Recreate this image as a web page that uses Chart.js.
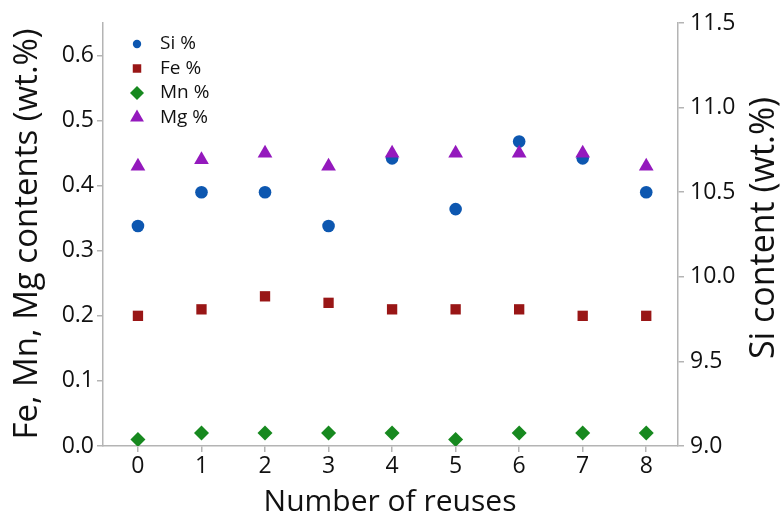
<!DOCTYPE html>
<html>
<head>
<meta charset="utf-8">
<script src="https://cdn.jsdelivr.net/npm/chart.js@4.4.1/dist/chart.umd.min.js"></script>
<style>
  html, body { margin: 0; padding: 0; background: #fff; }
  #wrap { width: 783px; height: 519px; }
</style>
</head>
<body>
<div id="wrap"><canvas id="chart" width="783" height="519"></canvas></div>
<script>
// number of reuses
const reuses = [0, 1, 2, 3, 4, 5, 6, 7, 8];
// contents in wt.%
const siValues = [10.3, 10.5, 10.5, 10.3, 10.7, 10.4, 10.8, 10.7, 10.5];
const feValues = [0.20, 0.21, 0.23, 0.22, 0.21, 0.21, 0.21, 0.20, 0.20];
const mnValues = [0.01, 0.02, 0.02, 0.02, 0.02, 0.01, 0.02, 0.02, 0.02];
const mgValues = [0.43, 0.44, 0.45, 0.43, 0.45, 0.45, 0.45, 0.45, 0.43];

const leftTicks = [0, 0.1, 0.2, 0.3, 0.4, 0.5, 0.6];
const rightTicks = [9.0, 9.5, 10.0, 10.5, 11.0, 11.5];

const FONT = "'Open Sans', 'Noto Sans', sans-serif";
const axisColor = '#b4b4b4';
const textColor = '#111';

function toPoints(vals) {
  return reuses.map((x, i) => ({ x: x, y: vals[i] }));
}

// legend drawn inside the plot, top-left
const innerLegend = {
  id: 'innerLegend',
  afterDatasetsDraw(chart) {
    const ctx = chart.ctx;
    const items = [
      { text: 'Si %', style: 'circle', color: '#0d57b0', r: 4.2 },
      { text: 'Fe %', style: 'rect', color: '#991616', r: 6 },
      { text: 'Mn %', style: 'rectRot', color: '#17891f', r: 7 },
      { text: 'Mg %', style: 'triangle', color: '#9419bd', r: 8 }
    ];
    const x0 = 137, y0 = 44, dy = 24.5;
    ctx.save();
    items.forEach((it, i) => {
      const y = y0 + i * dy;
      ctx.fillStyle = it.color;
      ctx.strokeStyle = it.color;
      Chart.helpers.drawPoint(ctx, { pointStyle: it.style, radius: it.r, borderWidth: 0, rotation: 0 }, x0, y);
      ctx.fillStyle = textColor;
      ctx.font = '19px ' + FONT;
      ctx.textBaseline = 'middle';
      ctx.textAlign = 'left';
      ctx.fillText(it.text, x0 + 23, y);
    });
    ctx.restore();
  }
};

// axis titles
const axisTitles = {
  id: 'axisTitles',
  afterDraw(chart) {
    const ctx = chart.ctx;
    ctx.save();
    ctx.fillStyle = textColor;
    ctx.textAlign = 'center';
    ctx.textBaseline = 'middle';
    ctx.font = '30px ' + FONT;
    ctx.fillText('Number of reuses', 390, 502);

    ctx.save();
    ctx.font = '33px ' + FONT;
    ctx.translate(28, 234);
    ctx.rotate(-Math.PI / 2);
    ctx.fillText('Fe, Mn, Mg contents (wt.%)', 0, 0);
    ctx.restore();

    ctx.save();
    ctx.font = '34px ' + FONT;
    ctx.translate(764, 228);
    ctx.rotate(-Math.PI / 2);
    ctx.fillText('Si content (wt.%)', 0, 0);
    ctx.restore();
    ctx.restore();
  }
};

const ctx = document.getElementById('chart').getContext('2d');

const chart = new Chart(ctx, {
  type: 'scatter',
  data: {
    datasets: [
      {
        label: 'Si %',
        data: toPoints(siValues),
        yAxisID: 'yRight',
        pointStyle: 'circle',
        pointRadius: 6.3,
        backgroundColor: '#0d57b0',
        borderColor: '#0d57b0',
        borderWidth: 0,
        order: 3
      },
      {
        label: 'Fe %',
        data: toPoints(feValues),
        yAxisID: 'y',
        pointStyle: 'rect',
        pointRadius: 7.3,
        backgroundColor: '#991616',
        borderColor: '#991616',
        borderWidth: 0,
        order: 2
      },
      {
        label: 'Mn %',
        data: toPoints(mnValues),
        yAxisID: 'y',
        pointStyle: 'rectRot',
        pointRadius: 7.5,
        backgroundColor: '#17891f',
        borderColor: '#17891f',
        borderWidth: 0,
        order: 1
      },
      {
        label: 'Mg %',
        data: toPoints(mgValues),
        yAxisID: 'y',
        pointStyle: 'triangle',
        pointRadius: 8.5,
        backgroundColor: '#9419bd',
        borderColor: '#9419bd',
        borderWidth: 0,
        order: 0
      }
    ]
  },
  options: {
    responsive: false,
    animation: false,
    layout: { padding: { top: 23, left: 0, right: 0, bottom: 0 } },
    plugins: {
      legend: { display: false },
      tooltip: { enabled: false }
    },
    scales: {
      x: {
        type: 'linear',
        min: -0.55,
        max: 8.5,
        afterBuildTicks: (scale) => { scale.ticks = reuses.map(v => ({ value: v })); },
        afterFit: (scale) => { scale.height = 73; },
        border: { display: true, color: axisColor, width: 1.5 },
        grid: { drawOnChartArea: false, color: axisColor, tickLength: 6, lineWidth: 1.5 },
        ticks: { color: textColor, font: { family: FONT, size: 23 }, padding: 1, maxRotation: 0 }
      },
      y: {
        position: 'left',
        min: 0,
        max: 0.65,
        afterBuildTicks: (scale) => { scale.ticks = leftTicks.map(v => ({ value: v })); },
        afterFit: (scale) => { scale.width = 103; },
        border: { display: true, color: axisColor, width: 1.5 },
        grid: { drawOnChartArea: false, color: axisColor, tickLength: 6, lineWidth: 1.5 },
        ticks: { color: textColor, font: { family: FONT, size: 23 }, padding: 3, callback: (v) => v.toFixed(1) }
      },
      yRight: {
        position: 'right',
        min: 9,
        max: 11.5,
        afterBuildTicks: (scale) => { scale.ticks = rightTicks.map(v => ({ value: v })); },
        afterFit: (scale) => { scale.width = 105; },
        border: { display: true, color: axisColor, width: 1.5 },
        grid: { drawOnChartArea: false, color: axisColor, tickLength: 6, lineWidth: 1.5 },
        ticks: { color: textColor, font: { family: FONT, size: 23 }, padding: 6, callback: (v) => v.toFixed(1) }
      }
    }
  },
  plugins: [innerLegend, axisTitles]
});
</script>
</body>
</html>
